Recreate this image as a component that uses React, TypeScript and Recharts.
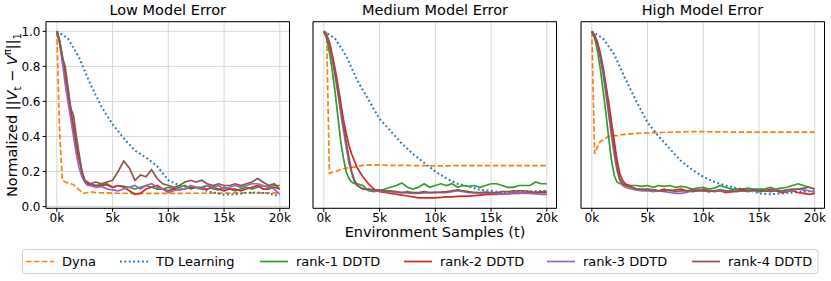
import { LineChart, Line, XAxis, YAxis, CartesianGrid, ReferenceArea } from 'recharts';

// x positions (environment samples) shared by Dyna and the DDTD curves
const xs = [
  0, 250, 500, 750, 1000, 1250, 1500, 1750, 2000, 2250, 2500, 2750, 3000,
  3500, 4000, 4500, 5000, 5500, 6000, 6500, 7000, 7500, 8000, 8500, 9000, 9500,
  10000, 10500, 11000, 11500, 12000, 12500, 13000, 13500, 14000, 14500, 15000,
  15500, 16000, 16500, 17000, 17500, 18000, 18500, 19000, 19500, 20000,
];
// TD learning is smooth, read every 1k
const xsTd = [
  0, 1000, 2000, 3000, 4000, 5000, 6000, 7000, 8000, 9000, 10000,
  11000, 12000, 13000, 14000, 15000, 16000, 17000, 18000, 19000, 20000,
];

const titles = ['Low Model Error', 'Medium Model Error', 'High Model Error'];
const seriesNames = ['Dyna', 'TD Learning', 'rank-1 DDTD', 'rank-2 DDTD', 'rank-3 DDTD', 'rank-4 DDTD'];
const seriesColors = ['#ff7f0e', '#1f77b4', '#2ca02c', '#d62728', '#9467bd', '#8c564b'];
const xTicks = [0, 5000, 10000, 15000, 20000];
const yTicks = [0, 0.2, 0.4, 0.6, 0.8, 1.0];

// ---- low model error ----
const dynaLow = [1.0, 0.42, 0.15, 0.14, 0.135, 0.13, 0.125, 0.11, 0.095, 0.082, 0.075, 0.08, 0.084, 0.08, 0.078, 0.078, 0.077, 0.076, 0.076, 0.075, 0.075, 0.075, 0.075, 0.075, 0.075, 0.075, 0.075, 0.075, 0.075, 0.076, 0.076, 0.076, 0.076, 0.077, 0.077, 0.077, 0.077, 0.077, 0.078, 0.078, 0.078, 0.078, 0.078, 0.078, 0.078, 0.078, 0.078];
const tdLow = [1.0, 0.96, 0.85, 0.7, 0.57, 0.47, 0.39, 0.32, 0.28, 0.23, 0.15, 0.12, 0.11, 0.1, 0.08, 0.068, 0.07, 0.078, 0.08, 0.075, 0.06];
const r1Low = [1.0, 0.95, 0.86, 0.76, 0.66, 0.56, 0.46, 0.36, 0.28, 0.2, 0.15, 0.13, 0.13, 0.12, 0.125, 0.13, 0.11, 0.12, 0.115, 0.11, 0.1, 0.11, 0.12, 0.11, 0.1, 0.1, 0.11, 0.1, 0.11, 0.12, 0.1, 0.11, 0.11, 0.12, 0.1, 0.095, 0.11, 0.1, 0.09, 0.1, 0.11, 0.1, 0.11, 0.12, 0.11, 0.12, 0.12];
const r2Low = [1.0, 0.94, 0.84, 0.74, 0.64, 0.54, 0.44, 0.34, 0.27, 0.2, 0.15, 0.13, 0.12, 0.12, 0.12, 0.125, 0.11, 0.12, 0.11, 0.09, 0.07, 0.075, 0.1, 0.11, 0.12, 0.1, 0.09, 0.1, 0.095, 0.1, 0.11, 0.11, 0.1, 0.1, 0.11, 0.1, 0.09, 0.1, 0.1, 0.09, 0.1, 0.11, 0.12, 0.1, 0.1, 0.11, 0.1];
const r3Low = [1.0, 0.93, 0.82, 0.7, 0.6, 0.5, 0.4, 0.3, 0.22, 0.17, 0.14, 0.12, 0.12, 0.11, 0.115, 0.1, 0.095, 0.09, 0.1, 0.11, 0.12, 0.1, 0.12, 0.13, 0.11, 0.1, 0.08, 0.09, 0.1, 0.1, 0.12, 0.11, 0.1, 0.12, 0.11, 0.12, 0.1, 0.11, 0.12, 0.11, 0.12, 0.13, 0.13, 0.12, 0.11, 0.1, 0.07];
const r4Low = [1.0, 0.95, 0.85, 0.8, 0.68, 0.56, 0.52, 0.4, 0.3, 0.2, 0.15, 0.14, 0.13, 0.14, 0.13, 0.14, 0.15, 0.2, 0.26, 0.22, 0.15, 0.18, 0.17, 0.21, 0.16, 0.13, 0.12, 0.11, 0.12, 0.14, 0.15, 0.14, 0.15, 0.13, 0.12, 0.13, 0.12, 0.12, 0.13, 0.12, 0.13, 0.14, 0.16, 0.14, 0.12, 0.13, 0.1];

// ---- medium model error ----
const dynaMed = [1.0, 0.99, 0.19, 0.195, 0.2, 0.205, 0.21, 0.215, 0.22, 0.22, 0.225, 0.225, 0.23, 0.235, 0.238, 0.238, 0.238, 0.236, 0.235, 0.235, 0.235, 0.235, 0.234, 0.234, 0.234, 0.232, 0.232, 0.232, 0.232, 0.233, 0.233, 0.233, 0.233, 0.233, 0.233, 0.233, 0.233, 0.233, 0.233, 0.233, 0.233, 0.233, 0.233, 0.233, 0.233, 0.233, 0.233];
const tdMed = [1.0, 0.96, 0.86, 0.72, 0.61, 0.5, 0.43, 0.36, 0.3, 0.25, 0.2, 0.16, 0.13, 0.115, 0.095, 0.09, 0.08, 0.085, 0.085, 0.088, 0.09];
const r1Med = [1.0, 0.96, 0.88, 0.78, 0.66, 0.52, 0.38, 0.28, 0.2, 0.16, 0.14, 0.13, 0.13, 0.12, 0.09, 0.085, 0.09, 0.1, 0.11, 0.12, 0.135, 0.11, 0.1, 0.11, 0.13, 0.11, 0.12, 0.13, 0.12, 0.13, 0.11, 0.12, 0.115, 0.12, 0.11, 0.12, 0.13, 0.13, 0.12, 0.11, 0.11, 0.12, 0.12, 0.12, 0.14, 0.13, 0.13];
const r2Med = [1.0, 0.98, 0.94, 0.87, 0.79, 0.7, 0.6, 0.5, 0.42, 0.35, 0.3, 0.26, 0.22, 0.17, 0.13, 0.1, 0.085, 0.08, 0.075, 0.07, 0.065, 0.06, 0.055, 0.05, 0.05, 0.05, 0.05, 0.052, 0.055, 0.055, 0.058, 0.06, 0.06, 0.062, 0.065, 0.068, 0.07, 0.07, 0.072, 0.072, 0.075, 0.075, 0.078, 0.078, 0.08, 0.08, 0.08];
const r3Med = [1.0, 0.97, 0.92, 0.84, 0.75, 0.65, 0.54, 0.44, 0.34, 0.25, 0.19, 0.14, 0.12, 0.1, 0.095, 0.09, 0.09, 0.085, 0.085, 0.08, 0.08, 0.078, 0.075, 0.075, 0.078, 0.08, 0.082, 0.08, 0.08, 0.085, 0.09, 0.085, 0.08, 0.08, 0.078, 0.078, 0.075, 0.072, 0.07, 0.075, 0.08, 0.078, 0.075, 0.075, 0.072, 0.07, 0.07];
const r4Med = [1.0, 0.97, 0.92, 0.85, 0.77, 0.67, 0.57, 0.47, 0.37, 0.28, 0.2, 0.15, 0.12, 0.1, 0.1, 0.095, 0.095, 0.09, 0.09, 0.085, 0.08, 0.085, 0.08, 0.08, 0.085, 0.08, 0.08, 0.082, 0.085, 0.09, 0.095, 0.09, 0.085, 0.08, 0.08, 0.082, 0.08, 0.08, 0.085, 0.085, 0.09, 0.09, 0.09, 0.085, 0.08, 0.085, 0.085];

// ---- high model error ----
const dynaHigh = [1.0, 0.3, 0.34, 0.37, 0.38, 0.39, 0.4, 0.4, 0.405, 0.405, 0.41, 0.41, 0.412, 0.415, 0.418, 0.42, 0.42, 0.422, 0.422, 0.424, 0.424, 0.425, 0.426, 0.427, 0.428, 0.428, 0.428, 0.427, 0.426, 0.426, 0.426, 0.425, 0.425, 0.425, 0.425, 0.425, 0.425, 0.425, 0.425, 0.425, 0.425, 0.425, 0.425, 0.425, 0.425, 0.425, 0.425];
const tdHigh = [1.0, 0.96, 0.87, 0.73, 0.6, 0.48, 0.4, 0.33, 0.26, 0.21, 0.17, 0.14, 0.12, 0.105, 0.095, 0.075, 0.07, 0.075, 0.08, 0.085, 0.09];
const r1High = [1.0, 0.96, 0.89, 0.79, 0.67, 0.54, 0.4, 0.27, 0.18, 0.14, 0.13, 0.13, 0.125, 0.12, 0.12, 0.115, 0.12, 0.11, 0.12, 0.115, 0.12, 0.11, 0.115, 0.11, 0.1, 0.105, 0.11, 0.1, 0.105, 0.12, 0.11, 0.1, 0.1, 0.1, 0.105, 0.1, 0.1, 0.1, 0.11, 0.1, 0.105, 0.11, 0.12, 0.13, 0.12, 0.11, 0.1];
const r2High = [1.0, 0.98, 0.94, 0.88, 0.8, 0.7, 0.6, 0.49, 0.38, 0.27, 0.19, 0.15, 0.13, 0.115, 0.1, 0.095, 0.1, 0.095, 0.09, 0.1, 0.09, 0.095, 0.1, 0.09, 0.085, 0.09, 0.1, 0.09, 0.085, 0.09, 0.08, 0.085, 0.09, 0.1, 0.09, 0.095, 0.085, 0.09, 0.1, 0.09, 0.08, 0.085, 0.09, 0.08, 0.075, 0.07, 0.075];
const r3High = [1.0, 0.97, 0.92, 0.85, 0.76, 0.65, 0.53, 0.41, 0.3, 0.21, 0.15, 0.12, 0.11, 0.1, 0.095, 0.09, 0.09, 0.085, 0.09, 0.085, 0.08, 0.075, 0.075, 0.08, 0.09, 0.1, 0.09, 0.085, 0.09, 0.09, 0.085, 0.09, 0.09, 0.09, 0.085, 0.09, 0.085, 0.09, 0.09, 0.095, 0.09, 0.085, 0.09, 0.1, 0.095, 0.09, 0.08];
const r4High = [1.0, 0.97, 0.93, 0.86, 0.78, 0.68, 0.56, 0.44, 0.33, 0.23, 0.16, 0.13, 0.12, 0.11, 0.1, 0.1, 0.095, 0.095, 0.09, 0.09, 0.095, 0.085, 0.09, 0.09, 0.095, 0.09, 0.09, 0.085, 0.09, 0.095, 0.09, 0.085, 0.085, 0.09, 0.09, 0.095, 0.09, 0.09, 0.085, 0.09, 0.09, 0.095, 0.1, 0.1, 0.105, 0.11, 0.1];

const panels = [
  { dyna: dynaLow, td: tdLow, ranks: [r1Low, r2Low, r3Low, r4Low] },
  { dyna: dynaMed, td: tdMed, ranks: [r1Med, r2Med, r3Med, r4Med] },
  { dyna: dynaHigh, td: tdHigh, ranks: [r1High, r2High, r3High, r4High] },
];

const FONT = '"DejaVu Sans", sans-serif';
const panelLeft = [46, 313.3, 580.7];
const PLOT_W = 243.5;
const Y_AXIS_W = 45;
const CHART_H = 235;
const PLOT_TOP = 21.7;
const PLOT_BOTTOM = 208.3;
const X_DOMAIN: [number, number] = [-970, 20870];
const Y_DOMAIN: [number, number] = [-0.01, 1.055];

const toPoints = (x: number[], y: number[]) => x.map((v, i) => ({ x: v, y: y[i] }));

const dashFor = (i: number) => (i === 0 ? '5.5 2.4' : i === 1 ? '1.8 2.6' : undefined);

const Panel = ({ idx }: { idx: number }) => {
  const p = panels[idx];
  const series = [toPoints(xs, p.dyna), toPoints(xsTd, p.td), ...p.ranks.map((r) => toPoints(xs, r))];
  return (
    <div style={{ position: 'absolute', left: panelLeft[idx] - Y_AXIS_W, top: 0 }}>
      <LineChart
        width={Y_AXIS_W + PLOT_W + 6}
        height={CHART_H}
        margin={{ top: PLOT_TOP, right: 6, left: 0, bottom: 0 }}
      >
        <CartesianGrid stroke="#d8d8d8" strokeWidth={1} />
        <XAxis
          type="number"
          dataKey="x"
          domain={X_DOMAIN}
          ticks={xTicks}
          allowDataOverflow
          height={CHART_H - PLOT_BOTTOM}
          tickFormatter={(v: number) => `${v / 1000}k`}
          tick={{ fill: '#000', fontSize: 12, fontFamily: FONT }}
          tickLine={{ stroke: '#000' }}
          tickSize={3.5}
          axisLine={false}
        />
        <YAxis
          type="number"
          dataKey="y"
          domain={Y_DOMAIN}
          ticks={yTicks}
          allowDataOverflow
          width={Y_AXIS_W}
          tickFormatter={(v: number) => v.toFixed(1)}
          tick={idx === 0 ? { fill: '#000', fontSize: 12, fontFamily: FONT } : false}
          tickLine={{ stroke: '#000' }}
          tickSize={3.5}
          axisLine={false}
        />
        {series.map((d, i) => (
          <Line
            key={seriesNames[i]}
            data={d}
            dataKey="y"
            type="linear"
            stroke={seriesColors[i]}
            strokeWidth={i === 1 ? 2 : 1.7}
            strokeDasharray={dashFor(i)}
            dot={false}
            isAnimationActive={false}
          />
        ))}
        <ReferenceArea
          x1={X_DOMAIN[0]}
          x2={X_DOMAIN[1]}
          y1={Y_DOMAIN[0]}
          y2={Y_DOMAIN[1]}
          fill="none"
          fillOpacity={0}
          stroke="#000"
          strokeWidth={1}
          ifOverflow="visible"
        />
      </LineChart>
      <div
        style={{
          position: 'absolute',
          left: Y_AXIS_W,
          width: PLOT_W,
          top: 2,
          textAlign: 'center',
          fontFamily: FONT,
          fontSize: 14.5,
          color: '#000',
        }}
      >
        {titles[idx]}
      </div>
    </div>
  );
};

const legendTextX = [62, 156, 296, 440, 583, 728];

const Legend = () => (
  <svg width={831} height={41} style={{ position: 'absolute', left: 0, top: 240 }}>
    <rect x={22.5} y={9.5} width={795.5} height={24} rx={3} fill="#fff" stroke="#d0d0d0" />
    {seriesNames.map((name, i) => (
      <g key={name}>
        <line
          x1={legendTextX[i] - 36}
          x2={legendTextX[i] - 8}
          y1={21.5}
          y2={21.5}
          stroke={seriesColors[i]}
          strokeWidth={i === 1 ? 2 : 1.7}
          strokeDasharray={dashFor(i)}
        />
        <text x={legendTextX[i]} y={26} fontFamily={FONT} fontSize={13} fill="#000">
          {name}
        </text>
      </g>
    ))}
  </svg>
);

export default function App() {
  return (
    <div style={{ position: 'absolute', left: 0, top: 0, width: 831, height: 281, background: '#fff' }}>
      {panels.map((_, i) => (
        <Panel key={titles[i]} idx={i} />
      ))}
      <div
        style={{
          position: 'absolute',
          left: 11.5,
          top: 115,
          transform: 'translate(-50%, -50%) rotate(-90deg)',
          whiteSpace: 'nowrap',
          fontFamily: FONT,
          fontSize: 14.5,
          color: '#000',
        }}
      >
        Normalized ||<i>V</i>
        <sub style={{ fontSize: '70%', lineHeight: 0 }}>t</sub> − <i>V</i>
        <sup style={{ fontSize: '70%', lineHeight: 0 }}>π</sup>||
        <sub style={{ fontSize: '70%', lineHeight: 0 }}>1</sub>
      </div>
      <div
        style={{
          position: 'absolute',
          left: 435,
          top: 232,
          transform: 'translate(-50%, -50%)',
          whiteSpace: 'nowrap',
          fontFamily: FONT,
          fontSize: 14.5,
          color: '#000',
        }}
      >
        Environment Samples (t)
      </div>
      <Legend />
    </div>
  );
}
